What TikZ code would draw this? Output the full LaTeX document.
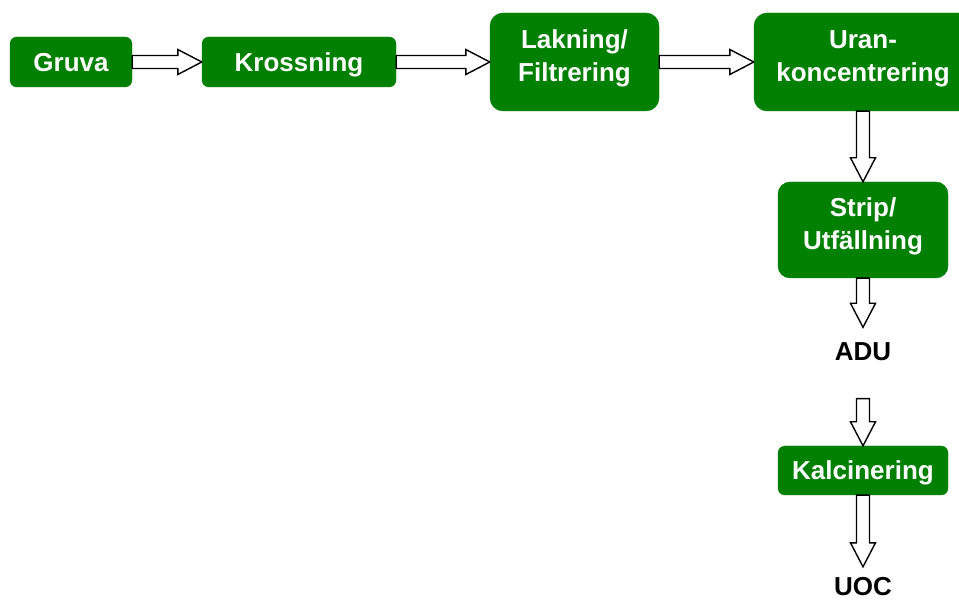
\documentclass[tikz,border=0pt]{standalone}
\usepackage{fontspec}
\setmainfont{Liberation Sans}
\usetikzlibrary{calc}
\definecolor{procgreen}{RGB}{0,128,0}
\tikzset{
  stage/.style={fill=procgreen, draw=procgreen, text=white, align=center,
    font=\fontsize{26}{33}\selectfont\bfseries, inner sep=0pt},
  oneline/.style={text height=19pt, text depth=0pt},
  twoline/.style={text depth=12pt},
  product/.style={text=black, font=\fontsize{26}{33}\selectfont\bfseries,
    inner sep=0pt, text height=19pt, text depth=0pt},
  flow/.style={draw=black, fill=white, line width=1.4pt, line join=miter}
}
% hollow block arrow between two points: #1 start, #2 tip
\newcommand\hblock[2]{%
  \draw[flow] let \p1=#1, \p2=#2 in
    (\x1,\y1-6.5) -- (\x2-24,\y1-6.5) -- (\x2-24,\y1-12.5) -- (\x2,\y1)
    -- (\x2-24,\y1+12.5) -- (\x2-24,\y1+6.5) -- (\x1,\y1+6.5) -- cycle;}
\newcommand\vblock[2]{%
  \draw[flow] let \p1=#1, \p2=#2 in
    (\x1-6.5,\y1) -- (\x1-6.5,\y2+24) -- (\x1-12.5,\y2+24) -- (\x1,\y2)
    -- (\x1+12.5,\y2+24) -- (\x1+6.5,\y2+24) -- (\x1+6.5,\y1) -- cycle;}
\begin{document}
\begin{tikzpicture}[x=1pt, y=-1pt]
  \useasboundingbox (0,0) rectangle (959,601);
  \begin{scope}
  \clip (0,0) rectangle (959,601);
  \node[stage, oneline, rounded corners=7pt, minimum width=122pt, minimum height=50pt] (gruva) at (71,62) {Gruva};
  \node[stage, oneline, rounded corners=7pt, minimum width=194pt, minimum height=50pt] (kross) at (299,62) {Krossning};
  \node[stage, twoline, rounded corners=13pt, minimum width=169pt, minimum height=98pt] (lakn) at (574.5,62) {Lakning/\\Filtrering};
  \node[stage, twoline, rounded corners=13pt, minimum width=218pt, minimum height=98pt] (uran) at (863,62) {Uran-\\koncentrering};
  \node[stage, twoline, rounded corners=12pt, minimum width=170pt, minimum height=96pt] (strip) at (863,230) {Strip/\\Utfällning};
  \node[product] (adu) at (863,351) {ADU};
  \node[stage, oneline, rounded corners=7pt, minimum width=170pt, minimum height=49pt] (kalc) at (863,470.5) {Kalcinering};
  \node[product] (uoc) at (863,585.5) {UOC};
  \end{scope}

  \hblock{(gruva.east)}{(kross.west)}
  \hblock{(kross.east)}{(lakn.west)}
  \hblock{(lakn.east)}{(uran.west)}
  \vblock{(uran.south)}{(strip.north)}
  \vblock{(strip.south)}{($(adu.north)+(0,-14)$)}
  \vblock{($(adu.south)+(0,38)$)}{(kalc.north)}
  \vblock{(kalc.south)}{($(uoc.north)+(0,-9)$)}
\end{tikzpicture}
\end{document}
